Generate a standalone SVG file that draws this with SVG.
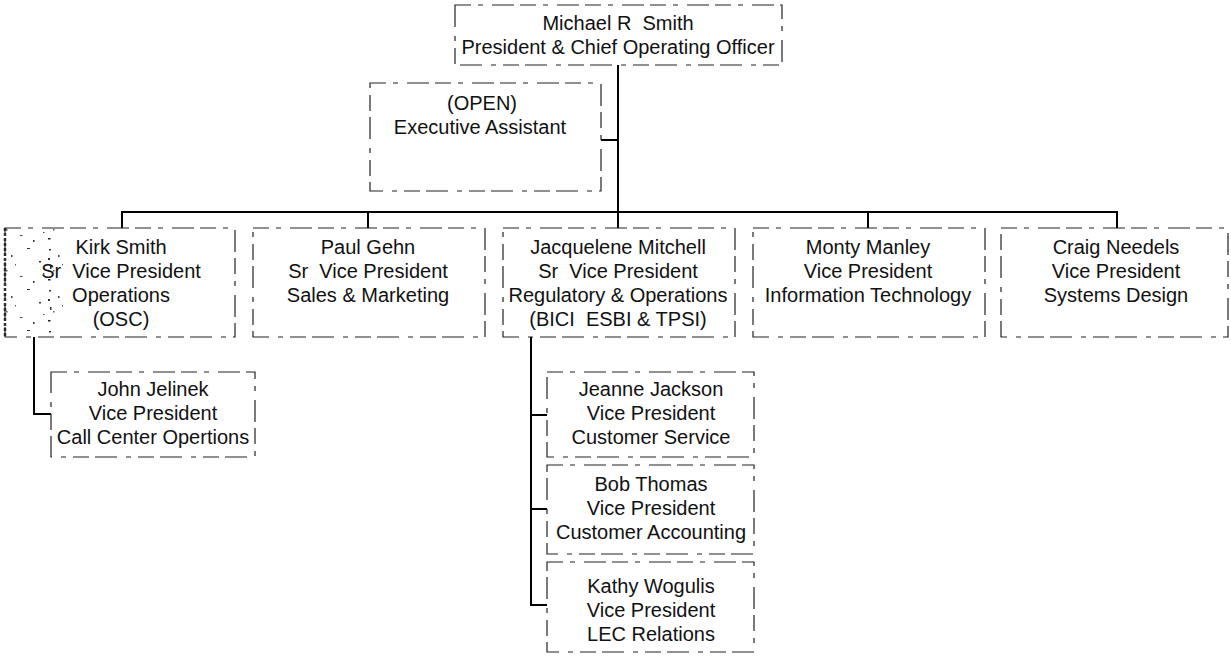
<svg xmlns="http://www.w3.org/2000/svg" width="1231" height="658" viewBox="0 0 1231 658">
<style>
.box{fill:none;stroke:#222;stroke-width:1.2;stroke-dasharray:16 7 5 9 22 6}
.t{font-family:"Liberation Sans",Arial,sans-serif;font-size:20px;fill:#111;text-anchor:middle;white-space:pre}
.c{fill:none;stroke:#000;stroke-width:2}
</style>
<defs>
<pattern id="noise" width="47" height="41" patternUnits="userSpaceOnUse">
<rect x="2" y="3" width="2" height="1.5" fill="#333"/>
<rect x="11" y="9" width="1.5" height="2" fill="#444"/>
<rect x="27" y="2" width="3" height="1" fill="#333"/>
<rect x="6" y="24" width="1.5" height="1.5" fill="#555"/>
<rect x="39" y="15" width="2" height="1.5" fill="#333"/>
<rect x="20" y="30" width="2.5" height="1" fill="#444"/>
<rect x="33" y="35" width="1.5" height="2" fill="#333"/>
<rect x="15" y="18" width="1" height="1.5" fill="#555"/>
<rect x="43" y="27" width="1.5" height="1" fill="#444"/>
<rect x="1" y="12" width="2" height="2" fill="#333"/>
<rect x="1" y="33" width="2.5" height="1.5" fill="#222"/>
<rect x="3" y="20" width="1.5" height="3" fill="#333"/>
</pattern>
</defs>
<rect width="1231" height="658" fill="#fff"/>
<g id="connectors">
<line class="c" x1="618" y1="65" x2="618" y2="212"/>
<line class="c" x1="601" y1="140" x2="618" y2="140"/>
<line class="c" x1="121" y1="212" x2="1118" y2="212"/>
<line class="c" x1="122" y1="211" x2="122" y2="228"/>
<line class="c" x1="368" y1="211" x2="368" y2="228"/>
<line class="c" x1="618" y1="211" x2="618" y2="228"/>
<line class="c" x1="868" y1="211" x2="868" y2="228"/>
<line class="c" x1="1117" y1="211" x2="1117" y2="228"/>
<polyline class="c" points="34,337 34,414 51,414"/>
<line class="c" x1="531" y1="337" x2="531" y2="605"/>
<line class="c" x1="530" y1="415" x2="547" y2="415"/>
<line class="c" x1="530" y1="509" x2="547" y2="509"/>
<line class="c" x1="530" y1="605" x2="547" y2="605"/>
</g>
<g id="n-smith">
<rect class="box" x="455" y="5" width="327" height="60"/>
<text class="t" x="618" y="30">Michael R  Smith</text>
<text class="t" x="618" y="54">President &amp; Chief Operating Officer</text>
</g>
<g id="n-exec">
<rect class="box" x="370" y="83" width="231" height="108"/>
<text class="t" x="482" y="110">(OPEN)</text>
<text class="t" x="480" y="134">Executive Assistant</text>
</g>
<g id="n-kirk">
<rect x="5" y="228" width="60" height="109" fill="url(#noise)"/>
<line x1="5" y1="228" x2="5" y2="337" stroke="#333" stroke-width="2.5" stroke-dasharray="3 2"/>
<rect class="box" x="5" y="228" width="230" height="109"/>
<text class="t" x="121" y="254">Kirk Smith</text>
<text class="t" x="121" y="278">Sr  Vice President</text>
<text class="t" x="121" y="302">Operations</text>
<text class="t" x="121" y="326">(OSC)</text>
</g>
<g id="n-paul">
<rect class="box" x="253" y="228" width="232" height="109"/>
<text class="t" x="368" y="254">Paul Gehn</text>
<text class="t" x="368" y="278">Sr  Vice President</text>
<text class="t" x="368" y="302">Sales &amp; Marketing</text>
</g>
<g id="n-jacquelene">
<rect class="box" x="503" y="228" width="232" height="109"/>
<text class="t" x="618" y="254">Jacquelene Mitchell</text>
<text class="t" x="618" y="278">Sr  Vice President</text>
<text class="t" x="618" y="302">Regulatory &amp; Operations</text>
<text class="t" x="618" y="326">(BICI  ESBI &amp; TPSI)</text>
</g>
<g id="n-monty">
<rect class="box" x="753" y="228" width="232" height="109"/>
<text class="t" x="868" y="254">Monty Manley</text>
<text class="t" x="868" y="278">Vice President</text>
<text class="t" x="868" y="302">Information Technology</text>
</g>
<g id="n-craig">
<rect class="box" x="1001" y="228" width="227" height="109"/>
<text class="t" x="1116" y="254">Craig Needels</text>
<text class="t" x="1116" y="278">Vice President</text>
<text class="t" x="1116" y="302">Systems Design</text>
</g>
<g id="n-john">
<rect class="box" x="51" y="372" width="204" height="85"/>
<text class="t" x="153" y="396">John Jelinek</text>
<text class="t" x="153" y="420">Vice President</text>
<text class="t" x="153" y="444">Call Center Opertions</text>
</g>
<g id="n-jeanne">
<rect class="box" x="547" y="372" width="207" height="85"/>
<text class="t" x="651" y="396">Jeanne Jackson</text>
<text class="t" x="651" y="420">Vice President</text>
<text class="t" x="651" y="444">Customer Service</text>
</g>
<g id="n-bob">
<rect class="box" x="547" y="465" width="207" height="89"/>
<text class="t" x="651" y="491">Bob Thomas</text>
<text class="t" x="651" y="515">Vice President</text>
<text class="t" x="651" y="539">Customer Accounting</text>
</g>
<g id="n-kathy">
<rect class="box" x="547" y="562" width="207" height="90"/>
<text class="t" x="651" y="593">Kathy Wogulis</text>
<text class="t" x="651" y="617">Vice President</text>
<text class="t" x="651" y="641">LEC Relations</text>
</g>
</svg>
